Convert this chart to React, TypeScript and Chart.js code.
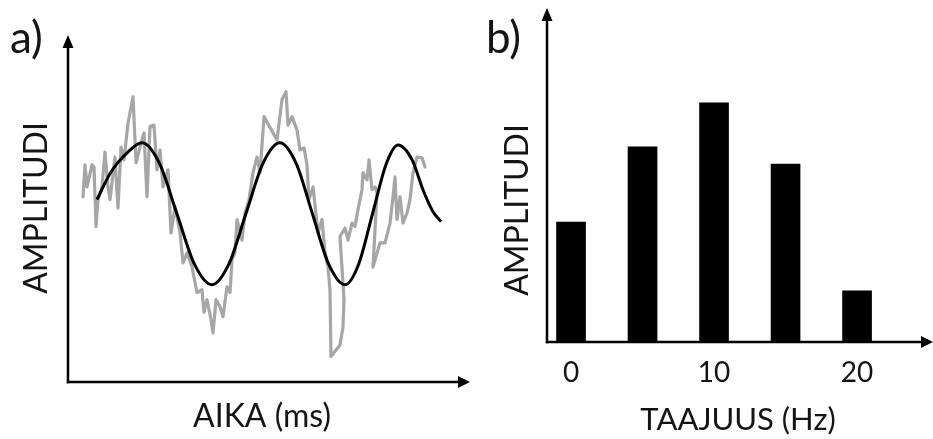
import React, { useEffect, useRef } from "react";
import { Chart, registerables } from "chart.js";

Chart.register(...registerables);

const W = 933;
const H = 439;
const FONT = "Lato, 'Open Sans', sans-serif";
const TEXT = "#141414";

// Panel a: noisy measured signal (time in ms, arbitrary amplitude)
const noisyTime = [
  3.73, 4.23, 4.73, 5.97, 6.47, 6.97, 7.46, 8.46, 9.2, 9.95, 10.45, 11.69, 12.44, 13.18, 13.93,
  14.93, 16.17, 16.92, 17.91, 18.91, 19.65, 20.4, 21.39, 22.14, 22.89, 23.63, 24.88, 25.62, 26.62,
  27.86, 28.61, 29.6, 30.85, 32.09, 33.33, 33.83, 34.58, 35.57, 36.07, 36.82, 37.81, 38.56, 39.55,
  40.3, 40.8, 41.54, 42.04, 43.28, 44.03, 45.02, 46.02, 47.01, 47.76, 48.76, 51.99, 53.23, 54.23,
  54.73, 55.72, 56.97, 57.71, 58.71, 59.45, 59.95, 60.95, 62.19, 63.18, 63.93, 64.68, 65.17, 65.42,
  66.67, 67.66, 68.41, 68.66, 67.66, 68.91, 69.65, 70.65, 71.39, 72.14, 73.13, 73.38, 74.38, 74.88,
  75.62, 76.37, 76.87, 75.87, 77.61, 78.86, 80.1, 80.85, 81.34, 81.84, 82.59, 83.33, 84.33, 85.07,
  85.82, 86.82, 88.06, 88.81,
];
const noisyAmp = [
  0.24, 0.69, 0.38, 0.69, 0.66, -0.18, 0.2, 0.38, 0.87, 0.38, 0.2, 0.8, 0.08, 0.94, 0.76,
  1.28, 1.65, 0.72, 0.94, 1.14, 0.24, 1.23, 1.25, 0.62, 0.9, 0.38, 0.62, -0.27, 0.1,
  -0.27, -0.69, -0.55, -0.75, -1.11, -1.07, -1.39, -1.21, -1.49, -1.68, -1.21, -1.31, -1.45, -1.03,
  -1.11, -0.65, -0.55, -0.08, -0.37, 0.01, 0.2, 0.58, 0.8, 0.58, 1.37, 1.04, 1.61, 1.72,
  1.25, 1.37, 1.18, 0.9, 0.93, 0.69, 0.2, 0.38, -0.27, -0.08, -0.55, -0.75, -1.07, -2.01,
  -1.92, -1.85, -1.59, -1.21, -0.32, -0.2, -0.37, -0.13, -0.18, 0.06, 0.34, 0.58, 0.48, 0.76,
  0.34, 0.38, 0.3, -0.75, -0.41, -0.41, -0.13, 0.24, 0.52, -0.08, 0.24, -0.13, 0.01, 0.2,
  0.58, 0.8, 0.79, 0.66,
];

// Panel a: smooth fitted oscillation
const fitTime = [
  7.2, 10.7, 14.9, 18.4, 22.75, 27.1, 31.45, 35.8, 40.0, 44.25, 48.5, 52.7, 56.75, 60.8, 64.85,
  68.9, 72.3, 75.75, 79.2, 82.1, 85.6, 88.3, 90.8, 92.8,
];
const fitAmp = [
  0.2, 0.59, 0.87, 1.0, 0.71, 0.0, -0.71, -1.0, -0.71, 0.0, 0.71, 1.0, 0.71, 0.0, -0.71,
  -1.0, -0.71, 0.0, 0.71, 0.97, 0.76, 0.34, 0.03, -0.11,
];

// Panel b: spectrum
const freqHz = [0, 5, 10, 15, 20];
const spectrumAmp = [35.9, 58.4, 71.6, 53.3, 15.3];
const freqTicks = [0, 10, 20];

function drawArrowAxes(ctx: CanvasRenderingContext2D, a: any) {
  ctx.save();
  ctx.strokeStyle = "#000";
  ctx.fillStyle = "#000";
  ctx.lineWidth = 2.5;
  ctx.lineCap = "butt";
  ctx.beginPath();
  ctx.moveTo(a.left, a.bottom + 1.2);
  ctx.lineTo(a.left, a.top + 10);
  ctx.stroke();
  ctx.beginPath();
  ctx.moveTo(a.left - 1.2, a.bottom);
  ctx.lineTo(a.right - 10, a.bottom);
  ctx.stroke();
  ctx.beginPath();
  ctx.moveTo(a.left, a.top);
  ctx.lineTo(a.left - 5.5, a.top + 13);
  ctx.lineTo(a.left + 5.5, a.top + 13);
  ctx.closePath();
  ctx.fill();
  ctx.beginPath();
  ctx.moveTo(a.right, a.bottom);
  ctx.lineTo(a.right - 12, a.bottom - 6);
  ctx.lineTo(a.right - 12, a.bottom + 6);
  ctx.closePath();
  ctx.fill();
  ctx.restore();
}

function drawRotated(ctx: CanvasRenderingContext2D, text: string, x: number, y: number, size: number) {
  ctx.save();
  ctx.translate(x, y);
  ctx.rotate(-Math.PI / 2);
  ctx.font = `${size}px ${FONT}`;
  ctx.fillStyle = TEXT;
  ctx.textAlign = "center";
  ctx.textBaseline = "middle";
  ctx.fillText(text, 0, 0);
  ctx.restore();
}

function drawText(ctx: CanvasRenderingContext2D, text: string, x: number, y: number, size: number, align: CanvasTextAlign) {
  ctx.save();
  ctx.font = `${size}px ${FONT}`;
  ctx.fillStyle = TEXT;
  ctx.textAlign = align;
  ctx.textBaseline = "alphabetic";
  ctx.fillText(text, x, y);
  ctx.restore();
}

const panelAPlugin = {
  id: "panelA",
  afterDraw(chart: any) {
    const ctx = chart.ctx;
    drawArrowAxes(ctx, chart.chartArea);
    drawText(ctx, "a)", 10, 53, 44, "left");
    drawRotated(ctx, "AMPLITUDI", 37, 208, 32);
    drawText(ctx, "AIKA (ms)", 262, 427, 32, "center");
  },
};

const panelBPlugin = {
  id: "panelB",
  afterDraw(chart: any) {
    const ctx = chart.ctx;
    drawArrowAxes(ctx, chart.chartArea);
    drawText(ctx, "b)", 486, 53, 44, "left");
    drawRotated(ctx, "AMPLITUDI", 518, 210, 32);
    const xs = chart.scales.x;
    freqTicks.forEach((t) => {
      drawText(ctx, String(t), xs.getPixelForValue(t), 382, 28, "center");
    });
    drawText(ctx, "TAAJUUS (Hz)", 738, 430, 31, "center");
  },
};

export default function App() {
  const refA = useRef<HTMLCanvasElement | null>(null);
  const refB = useRef<HTMLCanvasElement | null>(null);

  useEffect(() => {
    const chartA = new Chart(refA.current as HTMLCanvasElement, {
      type: "scatter",
      data: {
        datasets: [
          {
            data: fitTime.map((t, i) => ({ x: t, y: fitAmp[i] })),
            showLine: true,
            borderColor: "#000000",
            borderWidth: 3,
            pointRadius: 0,
            cubicInterpolationMode: "monotone",
            order: 0,
          } as any,
          {
            data: noisyTime.map((t, i) => ({ x: t, y: noisyAmp[i] })),
            showLine: true,
            borderColor: "#a6a6a6",
            borderWidth: 3.2,
            pointRadius: 0,
            tension: 0,
            borderJoinStyle: "round",
            borderCapStyle: "round",
            order: 1,
          } as any,
        ],
      },
      options: {
        animation: false,
        responsive: false,
        devicePixelRatio: 1,
        layout: { padding: { left: 68, right: W - 470, top: 35, bottom: H - 382 } },
        plugins: { legend: { display: false }, tooltip: { enabled: false } },
        scales: {
          x: { type: "linear", min: 0, max: 100, display: false },
          y: { type: "linear", min: -2.37, max: 2.52, display: false },
        },
      },
      plugins: [panelAPlugin],
    });

    const chartB = new Chart(refB.current as HTMLCanvasElement, {
      type: "bar",
      data: {
        datasets: [
          {
            data: freqHz.map((f, i) => ({ x: f, y: spectrumAmp[i] })),
            backgroundColor: "#000000",
            borderWidth: 0,
            barThickness: 29,
          } as any,
        ],
      },
      options: {
        animation: false,
        responsive: false,
        devicePixelRatio: 1,
        layout: { padding: { left: 547, right: 0, top: 8, bottom: H - 342 } },
        plugins: { legend: { display: false }, tooltip: { enabled: false } },
        scales: {
          x: { type: "linear", min: -1.68, max: 25.31, display: false, offset: false },
          y: { type: "linear", min: 0, max: 100, display: false },
        },
      },
      plugins: [panelBPlugin],
    });

    return () => {
      chartA.destroy();
      chartB.destroy();
    };
  }, []);

  const canvasStyle: React.CSSProperties = {
    position: "absolute",
    left: 0,
    top: 0,
    width: W,
    height: H,
  };

  return (
    <div style={{ position: "absolute", left: 0, top: 0, width: W, height: H, background: "#fff" }}>
      <canvas ref={refA} width={W} height={H} style={canvasStyle} />
      <canvas ref={refB} width={W} height={H} style={canvasStyle} />
    </div>
  );
}
